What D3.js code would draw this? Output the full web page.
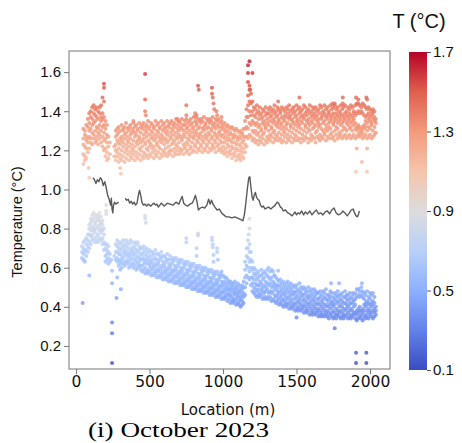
<!DOCTYPE html>
<html>
<head>
<meta charset="utf-8">
<script src="https://cdn.jsdelivr.net/npm/d3@7"></script>
<style>
  body { margin: 0; background: #fff; }
  svg { display: block; }
</style>
</head>
<body>
<div id="chart"></div>
<script>

// upper cloud: [location (m), temperatures ...]
var upperRows = [
  [50,1.13,1.18,1.23,1.26,1.31],[60,1.15,1.17,1.22,1.28,1.30],[70,1.16,1.21,1.25,1.27,1.33],[80,1.19,1.24,1.26,1.32,1.36],
  [90,1.21,1.27,1.30,1.34,1.39],[100,1.24,1.26,1.31,1.37,1.40],[110,1.23,1.29,1.33,1.36,1.42],[120,1.26,1.28,1.34,1.39,1.43],
  [130,1.24,1.30,1.35,1.38,1.41],[140,1.25,1.27,1.32,1.37,1.42],[150,1.23,1.29,1.31,1.36,1.40],[160,1.26,1.28,1.33,1.39,1.42],
  [170,1.24,1.30,1.35,1.37,1.43],[180,1.22,1.27,1.32,1.36,1.39],[190,1.20,1.25,1.29,1.33,1.37],[200,1.17,1.21,1.26,1.31,1.35],
  [210,1.15,1.19,1.24,1.28,1.33],[220,1.16,1.22,1.27],[230,1.18,1.24],[260,1.17,1.22],
  [270,1.15,1.20,1.23,1.27,1.30],[280,1.17,1.19,1.25,1.28,1.31],[290,1.14,1.21,1.24,1.29,1.32],[300,1.16,1.18,1.23,1.26,1.30],
  [310,1.15,1.20,1.25,1.27,1.33],[320,1.17,1.22,1.24,1.30,1.31],[330,1.14,1.19,1.26,1.28,1.32],[340,1.16,1.21,1.23,1.29,1.34],
  [350,1.18,1.20,1.25,1.27,1.31],[360,1.15,1.22,1.24,1.30,1.32],[370,1.17,1.19,1.26,1.28,1.33],[380,1.16,1.21,1.23,1.29,1.31],
  [390,1.18,1.20,1.25,1.30,1.34],[400,1.15,1.22,1.27,1.29,1.32],[410,1.17,1.19,1.24,1.28,1.33],[420,1.16,1.23,1.25,1.30,1.31],
  [430,1.18,1.21,1.26,1.27,1.34],[440,1.15,1.20,1.24,1.29,1.32],[450,1.17,1.22,1.25,1.31,1.33],[460,1.16,1.19,1.26,1.28,1.34],
  [470,1.18,1.23,1.24,1.30,1.32],[480,1.17,1.21,1.27,1.29,1.33],[490,1.16,1.20,1.25,1.31,1.35],[500,1.18,1.22,1.24,1.28,1.32],
  [510,1.17,1.23,1.26,1.30,1.34],[520,1.19,1.21,1.27,1.29,1.33],[530,1.16,1.22,1.25,1.31,1.32],[540,1.18,1.20,1.26,1.28,1.35],
  [550,1.17,1.23,1.24,1.30,1.33],[560,1.19,1.22,1.27,1.29,1.34],[570,1.16,1.21,1.25,1.31,1.32],[580,1.18,1.24,1.26,1.28,1.35],
  [590,1.17,1.20,1.27,1.30,1.33],[600,1.19,1.23,1.25,1.31,1.34],[610,1.18,1.21,1.26,1.29,1.32],[620,1.17,1.24,1.28,1.30,1.35],
  [630,1.19,1.22,1.25,1.32,1.33],[640,1.18,1.20,1.27,1.29,1.34],[650,1.20,1.23,1.26,1.31,1.35],[660,1.17,1.24,1.28,1.30,1.33],
  [670,1.19,1.21,1.25,1.32,1.34],[680,1.18,1.23,1.27,1.29,1.36],[690,1.20,1.22,1.26,1.31,1.33],[700,1.18,1.24,1.28,1.30,1.35],
  [710,1.19,1.21,1.27,1.32,1.34],[720,1.20,1.25,1.26,1.31,1.36],[730,1.18,1.23,1.28,1.30,1.33],[740,1.21,1.22,1.27,1.33,1.35],
  [750,1.19,1.24,1.29,1.31,1.36],[760,1.20,1.23,1.26,1.32,1.34],[770,1.18,1.25,1.28,1.30,1.35],[780,1.21,1.22,1.27,1.33,1.36],
  [790,1.19,1.24,1.29,1.31,1.34],[800,1.20,1.26,1.27,1.32,1.37],[810,1.22,1.23,1.28,1.30,1.35],[820,1.19,1.25,1.29,1.33,1.34],
  [830,1.21,1.24,1.27,1.31,1.36],[840,1.20,1.26,1.28,1.32,1.35],[850,1.22,1.23,1.29,1.34,1.36],[860,1.19,1.25,1.27,1.31,1.35],
  [870,1.21,1.24,1.30,1.32,1.37],[880,1.20,1.26,1.28,1.33,1.34],[890,1.22,1.23,1.27,1.31,1.36],[900,1.19,1.25,1.29,1.32,1.35],
  [910,1.21,1.24,1.28,1.34,1.36],[920,1.20,1.26,1.30,1.31,1.35],[930,1.22,1.23,1.27,1.33,1.37],[940,1.21,1.25,1.29,1.32,1.34],
  [950,1.19,1.24,1.28,1.31,1.36],[960,1.22,1.26,1.27,1.33,1.35],[970,1.20,1.23,1.29,1.32,1.36],[980,1.21,1.25,1.28,1.30,1.34],
  [990,1.19,1.24,1.27,1.32,1.35],[1000,1.20,1.22,1.28,1.31,1.33],[1010,1.18,1.24,1.26,1.30,1.34],[1020,1.19,1.21,1.27,1.29,1.32],
  [1030,1.17,1.23,1.25,1.30,1.33],[1040,1.19,1.22,1.26,1.28,1.32],[1050,1.18,1.20,1.25,1.29,1.31],[1060,1.16,1.22,1.24,1.28,1.32],
  [1070,1.18,1.21,1.26,1.27,1.31],[1080,1.17,1.19,1.24,1.28,1.30],[1090,1.15,1.21,1.23,1.27,1.31],[1100,1.17,1.20,1.25,1.26,1.30],
  [1110,1.16,1.18,1.23,1.27,1.29],[1120,1.15,1.20,1.22,1.26,1.30],[1130,1.17,1.19,1.24,1.28,1.29],[1140,1.16,1.21,1.25,1.27,1.31],
  [1150,1.19,1.23,1.27,1.31,1.35],[1160,1.22,1.27,1.32,1.37,1.41],[1170,1.26,1.31,1.37,1.43,1.48],[1180,1.28,1.34,1.40,1.45,1.51],
  [1190,1.27,1.33,1.38,1.44,1.49],[1200,1.25,1.30,1.35,1.40,1.45],[1210,1.26,1.29,1.34,1.38,1.42],[1220,1.24,1.30,1.33,1.37,1.41],
  [1230,1.25,1.28,1.34,1.39,1.43],[1240,1.23,1.29,1.32,1.36,1.40],[1250,1.25,1.27,1.33,1.38,1.42],[1260,1.24,1.30,1.31,1.36,1.39],
  [1270,1.26,1.28,1.34,1.37,1.41],[1280,1.23,1.29,1.33,1.35,1.40],[1290,1.25,1.31,1.32,1.38,1.42],[1300,1.24,1.27,1.34,1.36,1.39],
  [1310,1.26,1.30,1.33,1.39,1.41],[1320,1.25,1.28,1.35,1.37,1.42],[1330,1.27,1.31,1.32,1.38,1.40],[1340,1.24,1.29,1.34,1.36,1.41],
  [1350,1.26,1.30,1.35,1.39,1.43],[1360,1.25,1.28,1.33,1.37,1.40],[1370,1.27,1.32,1.34,1.38,1.42],[1380,1.25,1.29,1.35,1.36,1.41],
  [1390,1.26,1.31,1.33,1.39,1.40],[1400,1.24,1.28,1.34,1.37,1.42],[1410,1.25,1.30,1.32,1.36,1.41],[1420,1.27,1.29,1.35,1.38,1.40],
  [1430,1.24,1.31,1.33,1.37,1.42],[1440,1.26,1.28,1.34,1.39,1.41],[1450,1.25,1.30,1.36,1.37,1.43],[1460,1.27,1.32,1.33,1.38,1.40],
  [1470,1.24,1.29,1.35,1.36,1.41],[1480,1.26,1.31,1.34,1.39,1.42],[1490,1.25,1.28,1.33,1.37,1.40],[1500,1.27,1.30,1.35,1.38,1.43],
  [1510,1.25,1.32,1.34,1.36,1.41],[1520,1.26,1.29,1.33,1.39,1.42],[1530,1.24,1.31,1.35,1.37,1.40],[1540,1.26,1.28,1.34,1.38,1.41],
  [1550,1.25,1.30,1.36,1.37,1.43],[1560,1.27,1.32,1.33,1.39,1.42],[1570,1.26,1.29,1.35,1.38,1.40],[1580,1.24,1.31,1.34,1.36,1.41],
  [1590,1.26,1.30,1.33,1.39,1.43],[1600,1.25,1.28,1.35,1.37,1.40],[1610,1.27,1.31,1.34,1.38,1.42],[1620,1.26,1.32,1.36,1.39,1.41],
  [1630,1.24,1.29,1.33,1.37,1.42],[1640,1.27,1.30,1.35,1.38,1.40],[1650,1.26,1.32,1.34,1.36,1.41],[1660,1.25,1.28,1.33,1.39,1.43],
  [1670,1.27,1.31,1.36,1.37,1.42],[1680,1.26,1.30,1.34,1.38,1.40],[1690,1.28,1.29,1.35,1.39,1.43],[1700,1.25,1.31,1.33,1.37,1.41],
  [1710,1.27,1.30,1.36,1.38,1.42],[1720,1.26,1.32,1.34,1.39,1.40],[1730,1.28,1.31,1.35,1.37,1.43],[1740,1.26,1.29,1.36,1.38,1.41],
  [1750,1.27,1.33,1.34,1.39,1.42],[1760,1.25,1.30,1.35,1.37,1.43],[1770,1.28,1.32,1.36,1.39,1.41],[1780,1.26,1.31,1.34,1.38,1.42],
  [1790,1.27,1.29,1.35,1.37,1.40],[1800,1.28,1.33,1.36,1.39,1.43],[1810,1.26,1.30,1.34,1.38,1.41],[1820,1.27,1.32,1.35,1.37,1.42],
  [1830,1.28,1.31,1.36,1.39,1.43],[1840,1.26,1.30,1.34,1.38,1.40],[1850,1.27,1.33,1.35,1.37,1.42],[1860,1.28,1.31,1.36,1.39,1.41],
  [1870,1.26,1.32,1.34,1.38,1.43],[1880,1.27,1.30,1.35,1.37,1.42],[1890,1.28,1.33,1.36,1.39,1.40],[1900,1.26,1.31,1.34,1.38,1.43],
  [1910,1.27,1.30,1.32,1.39,1.44],[1920,1.28,1.31,1.33,1.40,1.44],[1930,1.27,1.29,1.32,1.39,1.43],[1940,1.28,1.30,1.31,1.40,1.42],
  [1950,1.26,1.29,1.32,1.39,1.44],[1960,1.27,1.31,1.33,1.38,1.43],[1970,1.28,1.32,1.35,1.37,1.42],[1980,1.26,1.30,1.34,1.38,1.41],
  [1990,1.27,1.32,1.36,1.39,1.42],[2000,1.28,1.31,1.35,1.37,1.41],[2010,1.26,1.33,1.34,1.38,1.40],[2020,1.27,1.30,1.36,1.39,1.41],
  [2030,1.28,1.32,1.35,1.37,1.40],[2040,1.29,1.34,1.36]
];

// single points standing off the upper cloud
var upperExtra = [
  [190,1.54],[190,1.52],[190,1.45],[180,1.47],[85,1.11],[90,1.06],[300,1.11],[305,1.08],
  [390,1.35],[470,1.59],[470,1.46],[470,1.40],[475,1.38],[690,1.36],[695,1.35],
  [750,1.43],[750,1.38],[810,1.39],[815,1.37],[830,1.53],[835,1.51],[820,1.38],
  [925,1.52],[925,1.49],[930,1.47],[935,1.44],[940,1.41],[955,1.40],[960,1.38],[990,1.37],
  [1180,1.656],[1170,1.635],[1170,1.595],[1200,1.595],[1170,1.55],[1180,1.53],[1185,1.51],
  [1375,1.45],[1520,1.47],[1745,1.44],[1760,1.44],[1815,1.47],[1815,1.44],
  [1905,1.47],[1920,1.46],[1975,1.47],[1980,1.46],
  [1910,1.21],[1905,1.09],[1945,1.14],[1980,1.21],[1980,1.09]
];

// lower cloud: [location (m), temperatures ...]
var lowerRows = [
  [40,0.65,0.68,0.71],[50,0.64,0.67,0.70,0.73],[60,0.63,0.68,0.69,0.74],[70,0.66,0.69,0.72,0.75],[80,0.68,0.71,0.74,0.77],
  [90,0.70,0.73,0.77,0.80,0.82],[100,0.72,0.76,0.79,0.83,0.85],[110,0.74,0.77,0.81,0.84,0.87],[120,0.75,0.79,0.80,0.85,0.88],
  [130,0.73,0.78,0.82,0.83,0.86],[140,0.74,0.76,0.80,0.84,0.87],[150,0.73,0.77,0.81,0.85,0.86],[160,0.75,0.79,0.82,0.84,0.88],
  [170,0.74,0.78,0.80,0.83,0.86],[180,0.72,0.75,0.79,0.82,0.84],[190,0.69,0.73,0.77,0.80],[200,0.63,0.66,0.70,0.72],
  [210,0.64,0.67,0.69,0.72],[220,0.62,0.65,0.68,0.71],[230,0.63,0.67],[240,0.64],[260,0.66],[270,0.64,0.68,0.72],
  [280,0.63,0.65,0.68,0.71,0.74],[290,0.61,0.64,0.67,0.70,0.73],[300,0.62,0.63,0.67,0.69,0.72],[310,0.60,0.64,0.66,0.70,0.73],
  [320,0.62,0.65,0.68,0.71,0.74],[330,0.61,0.63,0.67,0.69,0.72],[340,0.63,0.66,0.68,0.71,0.74],[350,0.62,0.64,0.67,0.70,0.73],
  [360,0.60,0.63,0.66,0.68,0.72],[370,0.61,0.65,0.67,0.70,0.74],[380,0.62,0.64,0.68,0.69,0.73],[390,0.60,0.62,0.66,0.68,0.71],
  [400,0.61,0.64,0.67,0.70,0.73],[410,0.59,0.63,0.65,0.69,0.72],[420,0.60,0.62,0.66,0.68,0.73],[430,0.61,0.63,0.65,0.69,0.71],
  [440,0.59,0.61,0.64,0.67,0.70],[450,0.58,0.61,0.65,0.67,0.70],[460,0.59,0.62,0.64,0.68,0.71],[470,0.57,0.60,0.63,0.66,0.69],
  [480,0.58,0.62,0.64,0.67,0.70],[490,0.57,0.59,0.63,0.65,0.68],[500,0.58,0.61,0.62,0.66,0.69],[510,0.56,0.60,0.63,0.64,0.68],
  [520,0.57,0.59,0.62,0.66,0.68],[530,0.56,0.60,0.61,0.64,0.67],[540,0.57,0.58,0.62,0.65,0.69],[550,0.55,0.59,0.61,0.64,0.67],
  [560,0.56,0.58,0.62,0.63,0.67],[570,0.55,0.59,0.60,0.64,0.66],[580,0.56,0.57,0.61,0.65,0.68],[590,0.54,0.58,0.60,0.63,0.66],
  [600,0.55,0.57,0.61,0.62,0.66],[610,0.54,0.58,0.59,0.63,0.65],[620,0.55,0.56,0.60,0.64,0.67],[630,0.53,0.57,0.59,0.62,0.64],
  [640,0.54,0.56,0.60,0.61,0.66],[650,0.53,0.57,0.58,0.62,0.64],[660,0.54,0.55,0.59,0.63,0.65],[670,0.52,0.56,0.58,0.61,0.64],
  [680,0.53,0.55,0.59,0.60,0.65],[690,0.52,0.56,0.57,0.61,0.63],[700,0.53,0.54,0.58,0.62,0.64],[710,0.51,0.55,0.57,0.60,0.63],
  [720,0.52,0.54,0.58,0.59,0.64],[730,0.51,0.55,0.56,0.60,0.62],[740,0.52,0.53,0.57,0.61,0.63],[750,0.50,0.54,0.56,0.59,0.62],
  [760,0.51,0.53,0.57,0.58,0.63],[770,0.50,0.54,0.55,0.59,0.61],[780,0.51,0.52,0.56,0.60,0.62],[790,0.49,0.53,0.55,0.58,0.61],
  [800,0.50,0.52,0.56,0.57,0.62],[810,0.49,0.53,0.54,0.58,0.60],[820,0.50,0.51,0.55,0.59,0.61],[830,0.48,0.52,0.54,0.57,0.60],
  [840,0.49,0.51,0.55,0.56,0.61],[850,0.48,0.52,0.53,0.57,0.59],[860,0.49,0.50,0.54,0.58,0.60],[870,0.47,0.51,0.53,0.56,0.59],
  [880,0.48,0.50,0.54,0.55,0.60],[890,0.47,0.51,0.52,0.56,0.58],[900,0.48,0.49,0.53,0.57,0.59],[910,0.46,0.50,0.52,0.55,0.58],
  [920,0.47,0.49,0.53,0.54,0.59],[930,0.46,0.50,0.51,0.55,0.57],[940,0.47,0.48,0.52,0.56,0.58],[950,0.45,0.49,0.51,0.54,0.57],
  [960,0.46,0.48,0.52,0.53,0.58],[970,0.45,0.49,0.50,0.54,0.56],[980,0.46,0.47,0.51,0.55,0.57],[990,0.44,0.48,0.50,0.53,0.56],
  [1000,0.45,0.47,0.51,0.52,0.56],[1010,0.44,0.48,0.49,0.53,0.55],[1020,0.45,0.46,0.50,0.52,0.55],[1030,0.43,0.47,0.49,0.51,0.54],
  [1040,0.44,0.46,0.49,0.52,0.53],[1050,0.42,0.46,0.48,0.50,0.53],[1060,0.43,0.45,0.49,0.51,0.52],[1070,0.42,0.44,0.47,0.50,0.52],
  [1080,0.43,0.46,0.48,0.49,0.53],[1090,0.41,0.44,0.47,0.50,0.51],[1100,0.42,0.45,0.46,0.49,0.52],[1110,0.41,0.43,0.47,0.48,0.51],
  [1120,0.40,0.44,0.45,0.48,0.50],[1130,0.41,0.43,0.46,0.49,0.51],[1140,0.42,0.45,0.47,0.50,0.53],[1150,0.46,0.50,0.55,0.59,0.63],
  [1160,0.52,0.56,0.61,0.66,0.70],[1170,0.55,0.60,0.65,0.70,0.74],[1180,0.54,0.58,0.63,0.68,0.72],[1190,0.51,0.55,0.60,0.64,0.68],
  [1200,0.48,0.52,0.55,0.59,0.63],[1210,0.47,0.50,0.54,0.57,0.60],[1220,0.46,0.49,0.52,0.56,0.59],[1230,0.45,0.48,0.51,0.54,0.57],
  [1240,0.46,0.49,0.51,0.55,0.58],[1250,0.45,0.47,0.51,0.53,0.56],[1260,0.46,0.49,0.52,0.56,0.59],[1270,0.44,0.48,0.50,0.54,0.57],
  [1280,0.45,0.47,0.51,0.55,0.58],[1290,0.44,0.48,0.50,0.53,0.57],[1300,0.45,0.49,0.52,0.56,0.59],[1310,0.44,0.47,0.51,0.55,0.60],
  [1320,0.45,0.48,0.52,0.54,0.58],[1330,0.43,0.47,0.50,0.55,0.59],[1340,0.44,0.48,0.51,0.53,0.58],[1350,0.43,0.46,0.50,0.52,0.56],
  [1360,0.42,0.45,0.49,0.51,0.55],[1370,0.43,0.46,0.48,0.51,0.54],[1380,0.41,0.44,0.47,0.50,0.53],[1390,0.42,0.45,0.48,0.51,0.54],
  [1400,0.41,0.43,0.46,0.49,0.52],[1410,0.40,0.44,0.47,0.50,0.53],[1420,0.41,0.43,0.46,0.48,0.51],[1430,0.40,0.42,0.45,0.49,0.52],
  [1440,0.41,0.44,0.47,0.50,0.53],[1450,0.39,0.42,0.45,0.48,0.51],[1460,0.40,0.43,0.46,0.49,0.52],[1470,0.39,0.41,0.44,0.47,0.50],
  [1480,0.40,0.42,0.46,0.48,0.51],[1490,0.38,0.41,0.44,0.47,0.50],[1500,0.39,0.42,0.45,0.48,0.51],[1510,0.38,0.40,0.43,0.46,0.49],
  [1520,0.39,0.42,0.44,0.48,0.52],[1530,0.38,0.41,0.45,0.47,0.50],[1540,0.39,0.40,0.43,0.46,0.49],[1550,0.37,0.41,0.44,0.46,0.50],
  [1560,0.38,0.40,0.43,0.47,0.49],[1570,0.37,0.39,0.42,0.45,0.48],[1580,0.38,0.41,0.44,0.46,0.50],[1590,0.36,0.40,0.42,0.45,0.48],
  [1600,0.37,0.39,0.43,0.46,0.49],[1610,0.36,0.38,0.41,0.44,0.47],[1620,0.37,0.40,0.43,0.45,0.49],[1630,0.36,0.39,0.42,0.46,0.48],
  [1640,0.37,0.38,0.41,0.44,0.47],[1650,0.35,0.39,0.42,0.44,0.47],[1660,0.36,0.38,0.41,0.45,0.48],[1670,0.35,0.37,0.40,0.43,0.46],
  [1680,0.36,0.39,0.42,0.44,0.48],[1690,0.35,0.38,0.41,0.45,0.47],[1700,0.36,0.37,0.40,0.44,0.49],[1710,0.35,0.38,0.41,0.43,0.46],
  [1720,0.34,0.37,0.40,0.44,0.46],[1730,0.36,0.39,0.42,0.45,0.48],[1740,0.35,0.37,0.41,0.43,0.47],[1750,0.34,0.38,0.40,0.42,0.45],
  [1760,0.35,0.37,0.41,0.44,0.47],[1770,0.34,0.36,0.39,0.43,0.46],[1780,0.36,0.38,0.42,0.45,0.48],[1790,0.35,0.37,0.40,0.43,0.46],
  [1800,0.34,0.38,0.41,0.44,0.46],[1810,0.35,0.37,0.40,0.43,0.47],[1820,0.34,0.36,0.39,0.42,0.45],[1830,0.35,0.38,0.42,0.45,0.48],
  [1840,0.36,0.39,0.41,0.44,0.46],[1850,0.34,0.37,0.40,0.43,0.46],[1860,0.35,0.38,0.41,0.44,0.47],[1870,0.34,0.36,0.39,0.42,0.45],
  [1880,0.35,0.38,0.42,0.44,0.47],[1890,0.36,0.37,0.40,0.43,0.46],[1900,0.34,0.37,0.41,0.44,0.47],[1910,0.33,0.36,0.38,0.45,0.49],
  [1920,0.34,0.37,0.39,0.46,0.49],[1930,0.35,0.38,0.40,0.45,0.48],[1940,0.34,0.36,0.38,0.46,0.50],[1950,0.33,0.37,0.39,0.45,0.48],
  [1960,0.35,0.38,0.41,0.44,0.47],[1970,0.34,0.36,0.40,0.42,0.46],[1980,0.35,0.38,0.41,0.43,0.48],[1990,0.34,0.37,0.39,0.42,0.45],
  [2000,0.36,0.38,0.41,0.44,0.47],[2010,0.35,0.37,0.40,0.42,0.46],[2020,0.34,0.38,0.41,0.43,0.47],[2030,0.35,0.37,0.39,0.42,0.45],
  [2040,0.36,0.38,0.40]
];

var lowerExtra = [
  [45,0.42],[55,0.635],[90,0.56],[245,0.585],[245,0.52],[245,0.32],[245,0.265],[245,0.113],
  [280,0.55],[275,0.445],[300,0.59],[305,0.49],[205,0.92],[205,0.89],[205,0.875],
  [470,0.865],[470,0.85],[475,0.83],[750,0.75],[750,0.73],[830,0.775],[830,0.765],[820,0.70],[820,0.66],
  [925,0.755],[925,0.74],[930,0.72],[930,0.705],[935,0.665],[935,0.63],[960,0.70],[960,0.68],[965,0.64],[990,0.58],
  [1180,0.85],[1180,0.80],[1175,0.77],[1375,0.585],[1350,0.56],[1760,0.29],[1735,0.52],[1790,0.52],
  [1905,0.165],[1905,0.113],[1975,0.165],[1975,0.113],[1945,0.52],[1500,0.345]
];

// mean line, null marks the break in the record
var lineLoc = [115,125,135,145,155,165,175,185,195,205,215,225,235,240,245,250,255,262,270,280,290,300,
  335,345,355,365,375,385,395,405,415,425,432,440,448,458,470,480,490,500,510,520,530,540,550,560,570,
  580,600,620,640,660,680,700,710,722,732,745,760,775,790,800,812,822,832,845,860,875,890,902,912,922,932,
  945,960,975,990,1005,1020,1040,1060,1080,1095,1110,1125,1135,1145,1155,1165,1175,1182,1190,1198,1205,1212,
  1220,1228,1236,1245,1255,1265,1275,1285,1295,1310,1325,1340,1355,1368,1378,1390,1400,1410,1425,1440,1455,
  1470,1480,1490,1500,1510,1522,1535,1548,1560,1575,1590,1605,1620,1635,1650,1665,1680,1695,1710,1725,1740,
  1755,1770,1785,1800,1815,1830,1845,1860,1872,1885,1895,1905,1915,1922,1928];
var lineTemp = [1.06,1.05,1.03,1.05,1.04,1.06,1.05,1.02,1.04,1.01,0.97,0.95,0.92,0.955,0.90,0.88,0.92,0.935,0.925,0.93,0.935,null,
  0.955,0.945,0.95,0.93,0.94,0.925,0.935,0.92,0.93,0.975,0.995,0.97,0.935,0.92,0.925,0.915,0.925,0.92,0.915,0.925,0.93,0.92,0.925,0.91,0.92,
  0.93,0.915,0.93,0.925,0.92,0.935,0.925,0.945,0.965,0.93,0.92,0.915,0.925,0.93,0.945,0.97,0.94,0.895,0.905,0.91,0.905,0.92,0.95,0.925,0.945,0.925,
  0.91,0.895,0.90,0.88,0.87,0.86,0.86,0.855,0.86,0.855,0.85,0.845,0.84,0.87,0.93,1.00,1.06,1.065,1.01,0.96,0.945,0.97,
  0.985,0.96,0.95,0.945,0.92,0.91,0.915,0.90,0.905,0.91,0.90,0.91,0.92,0.935,0.93,0.91,0.905,0.89,0.895,0.88,0.875,
  0.865,0.875,0.885,0.87,0.88,0.875,0.89,0.87,0.885,0.875,0.89,0.87,0.885,0.895,0.875,0.88,0.87,0.885,0.89,0.875,0.895,
  0.905,0.88,0.87,0.875,0.89,0.88,0.865,0.88,0.895,0.90,0.88,0.865,0.86,0.875,0.89];

var xTicks = [0, 500, 1000, 1500, 2000];
var yTicks = [0.2, 0.4, 0.6, 0.8, 1.0, 1.2, 1.4, 1.6];
var cbTicks = [0.1, 0.5, 0.9, 1.3, 1.7];
var coolwarm = ["#3b4cc0", "#6282ea", "#8db0fe", "#b8d0f9", "#dddcdc", "#f5c4ac", "#f49a7b", "#de604d", "#b40426"];

var sansFont = "'Liberation Sans', Arial, sans-serif";
var svgWidth = 462, svgHeight = 443;
var plot = { left: 69, right: 390, top: 51, bottom: 369 };

var svg = d3.select("#chart").append("svg")
  .attr("width", svgWidth)
  .attr("height", svgHeight);

var xScale = d3.scaleLinear().domain([-48, 2136]).range([plot.left, plot.right]);
var yScale = d3.scaleLinear().domain([0.082, 1.708]).range([plot.bottom, plot.top]);

var colorScale = d3.scaleLinear()
  .domain(coolwarm.map((c, i) => 0.1 + i * 1.6 / (coolwarm.length - 1)))
  .range(coolwarm)
  .clamp(true);

// flatten rows into points
function toPoints(rows, extra) {
  var pts = [];
  rows.forEach(r => {
    for (var i = 1; i < r.length; i++) pts.push([r[0], r[i]]);
  });
  extra.forEach(e => pts.push(e));
  return pts;
}

var points = toPoints(upperRows, upperExtra).concat(toPoints(lowerRows, lowerExtra));

svg.append("g")
  .selectAll("circle")
  .data(points)
  .enter()
  .append("circle")
  .attr("cx", d => xScale(d[0]))
  .attr("cy", d => yScale(d[1]))
  .attr("r", 2.0)
  .attr("fill", d => colorScale(d[1]))
  .attr("fill-opacity", 0.8);

var lineData = lineLoc.map((l, i) => [l, lineTemp[i]]);
var line = d3.line()
  .defined(d => d[1] !== null)
  .x(d => xScale(d[0]))
  .y(d => yScale(d[1]));

svg.append("path")
  .datum(lineData)
  .attr("d", line)
  .attr("fill", "none")
  .attr("stroke", "#5a5a5a")
  .attr("stroke-width", 1.4)
  .attr("stroke-linejoin", "round");

// frame
svg.append("rect")
  .attr("x", plot.left)
  .attr("y", plot.top)
  .attr("width", plot.right - plot.left)
  .attr("height", plot.bottom - plot.top)
  .attr("fill", "none")
  .attr("stroke", "#8c8c8c")
  .attr("stroke-width", 1.2);

// axes
var xAxis = svg.append("g")
  .attr("transform", `translate(0, ${plot.bottom})`)
  .call(d3.axisBottom(xScale).tickValues(xTicks).tickSize(5).tickSizeOuter(0).tickPadding(2).tickFormat(d3.format("d")));
xAxis.select(".domain").remove();
xAxis.selectAll("line").attr("stroke", "#777");
xAxis.selectAll("text")
  .style("font-family", "'DejaVu Sans', sans-serif")
  .style("font-size", "15.5px")
  .attr("fill", "#111");

var yAxis = svg.append("g")
  .attr("transform", `translate(${plot.left}, 0)`)
  .call(d3.axisLeft(yScale).tickValues(yTicks).tickSize(5).tickSizeOuter(0).tickPadding(3).tickFormat(d3.format(".1f")));
yAxis.select(".domain").remove();
yAxis.selectAll("line").attr("stroke", "#777");
yAxis.selectAll("text")
  .style("font-family", sansFont)
  .style("font-size", "15px")
  .attr("fill", "#111");

svg.append("text")
  .attr("transform", `translate(22, 222) rotate(-90)`)
  .attr("text-anchor", "middle")
  .style("font-family", sansFont)
  .style("font-size", "14.5px")
  .attr("fill", "#111")
  .text("Temperature (°C)");

svg.append("text")
  .attr("x", 228)
  .attr("y", 415)
  .attr("text-anchor", "middle")
  .style("font-family", "'DejaVu Sans', sans-serif")
  .style("font-size", "15px")
  .attr("fill", "#111")
  .text("Location (m)");

svg.append("text")
  .attr("x", 88)
  .attr("y", 437)
  .style("font-family", "'Liberation Serif', 'Times New Roman', serif")
  .style("font-size", "21px")
  .attr("textLength", 181)
  .attr("lengthAdjust", "spacingAndGlyphs")
  .attr("fill", "#000")
  .text("(i) October 2023");

// colorbar
var cb = { x: 409, w: 18, top: 52, bottom: 370 };
var cbScale = d3.scaleLinear().domain([0.1, 1.7]).range([cb.bottom, cb.top]);

var grad = svg.append("defs").append("linearGradient")
  .attr("id", "cw")
  .attr("x1", "0%").attr("y1", "100%")
  .attr("x2", "0%").attr("y2", "0%");
grad.selectAll("stop")
  .data(coolwarm)
  .enter()
  .append("stop")
  .attr("offset", (d, i) => (i / (coolwarm.length - 1) * 100) + "%")
  .attr("stop-color", d => d);

svg.append("rect")
  .attr("x", cb.x)
  .attr("y", cb.top)
  .attr("width", cb.w)
  .attr("height", cb.bottom - cb.top)
  .attr("fill", "url(#cw)");

var cbAxis = svg.append("g")
  .attr("transform", `translate(${cb.x + cb.w}, 0)`)
  .call(d3.axisRight(cbScale).tickValues(cbTicks).tickSize(4).tickSizeOuter(0).tickPadding(2).tickFormat(d3.format(".1f")));
cbAxis.select(".domain").remove();
cbAxis.selectAll("line").attr("stroke", "#555");
cbAxis.selectAll("text")
  .style("font-family", sansFont)
  .style("font-size", "15px")
  .attr("fill", "#111");

svg.append("text")
  .attr("x", 419)
  .attr("y", 28)
  .attr("text-anchor", "middle")
  .style("font-family", sansFont)
  .style("font-size", "20px")
  .attr("fill", "#111")
  .text("T (°C)");

</script>
</body>
</html>
